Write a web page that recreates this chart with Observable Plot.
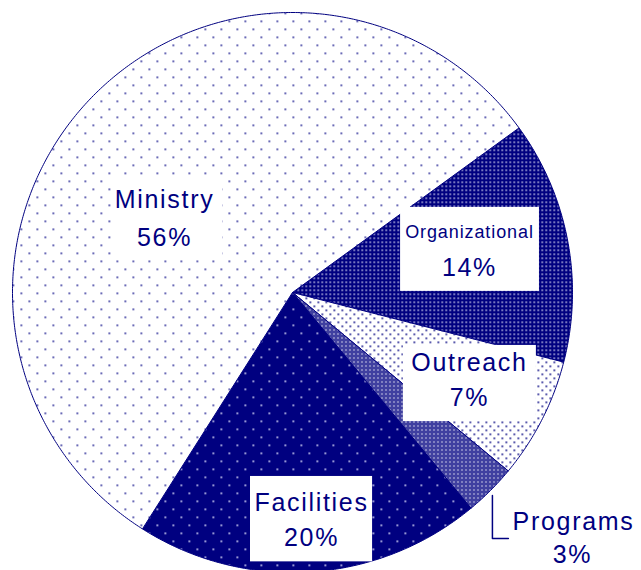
<!DOCTYPE html>
<html>
<head>
<meta charset="utf-8">
<script src="https://cdn.jsdelivr.net/npm/d3@7"></script>
<script src="https://cdn.jsdelivr.net/npm/@observablehq/plot@0.6"></script>
<style>
  html, body { margin: 0; padding: 0; background: #fff; }
  #chart svg { display: block; }
  #chart svg text { letter-spacing: 1.7px; }
</style>
</head>
<body>
<div id="chart"></div>
<script>
// ---- data ----
const categories = ["Organizational", "Outreach", "Programs", "Facilities", "Ministry"];
const values = [14, 7, 3, 20, 56];
const pctLabels = ["14%", "7%", "3%", "20%", "56%"];

// ---- layout (in units of the pie radius, centre = 0,0) ----
const startDeg = 54;
const textX = [0.632, 0.632, 0.786, 0.068, -0.457];
const textY1 = [0.214, -0.25, -0.821, -0.75, 0.329];
const textY2 = [0.089, -0.375, -0.939, -0.875, 0.196];
const pctX = [0.632, 0.632, 1.0, 0.068, -0.457];
const boxX1 = [0.386, 0.396, null, -0.15, -0.643];
const boxX2 = [0.882, 0.871, null, 0.286, -0.25];
const boxY1 = [0.004, -0.461, null, -0.962, 0.114];
const boxY2 = [0.304, -0.189, null, -0.657, 0.414];
const leader = [{x: 0.714, y: -0.725}, {x: 0.714, y: -0.879}, {x: 0.771, y: -0.879}];

const navy = "#000080";
const patterns = ["pOrg", "pOut", "pProg", "pFac", "pMin"];

const arcs = d3.pie().sort(null)
  .startAngle(startDeg * Math.PI / 180)
  .endAngle(startDeg * Math.PI / 180 + 2 * Math.PI)(values);

function slicePoly(a) {
  const pts = [{x: 0, y: 0}];
  const n = Math.max(2, Math.ceil((a.endAngle - a.startAngle) / (Math.PI / 360)));
  for (let k = 0; k <= n; k++) {
    const t = a.startAngle + (a.endAngle - a.startAngle) * k / n;
    pts.push({x: Math.sin(t), y: Math.cos(t)});
  }
  pts.push({x: 0, y: 0});
  return pts;
}

const labels = categories.map((c, i) => ({
  name: c, pct: pctLabels[i], x: textX[i], y1: textY1[i], y2: textY2[i], px: pctX[i],
  bx1: boxX1[i], bx2: boxX2[i], by1: boxY1[i], by2: boxY2[i]
}));
const boxed = labels.filter(d => d.bx1 != null);
const centred = labels.filter(d => d.name !== "Programs");
const prog = labels.filter(d => d.name === "Programs");

const font = "Liberation Sans, Arial, sans-serif";

const chart = Plot.plot({
  width: 641,
  height: 570,
  marginLeft: 12, marginTop: 12, marginRight: 0, marginBottom: 0,
  x: {domain: [-1, 349 / 280], axis: null},
  y: {domain: [-278 / 280, 1], axis: null},
  style: {background: "white", overflow: "visible"},
  marks: [
    ...arcs.map((a, i) => Plot.line(slicePoly(a), {
      x: "x", y: "y", fill: `url(#${patterns[i]})`, stroke: navy, strokeWidth: 1, curve: "linear"
    })),
    Plot.rect(boxed, {x1: "bx1", x2: "bx2", y1: "by1", y2: "by2", fill: "white"}),
    Plot.text(centred.filter(d => d.name !== "Organizational"), {x: "x", y: "y1", text: "name", fill: navy, fontSize: 25, fontFamily: font}),
    Plot.text(centred.filter(d => d.name === "Organizational"), {x: "x", y: "y1", text: "name", fill: navy, fontSize: 18, fontFamily: font}),
    Plot.text(centred, {x: "px", y: "y2", text: "pct", fill: navy, fontSize: 25, fontFamily: font}),
    Plot.text(prog, {x: "x", y: "y1", text: "name", fill: navy, fontSize: 25, fontFamily: font, textAnchor: "start"}),
    Plot.text(prog, {x: "px", y: "y2", text: "pct", fill: navy, fontSize: 25, fontFamily: font}),
    Plot.line(leader, {x: "x", y: "y", stroke: navy, strokeWidth: 1.5})
  ]
});

// pattern definitions
const svg = d3.select(chart);
const defs = svg.insert("defs", ":first-child");
function pat(id, size, bg, fg, cells) {
  const p = defs.append("pattern").attr("id", id).attr("patternUnits", "userSpaceOnUse")
    .attr("width", size).attr("height", size);
  p.append("rect").attr("width", size).attr("height", size).attr("fill", bg);
  cells.forEach(([x, y, w, h]) => p.append("rect").attr("x", x).attr("y", y).attr("width", w).attr("height", h).attr("fill", fg));
}
pat("pMin", 16, "white", "#1a1a90", [[4, 4, 1.6, 1.6], [12, 12, 1.6, 1.6]]);
pat("pFac", 16, navy, "#e8e8ff", [[4, 4, 1.6, 1.6], [12, 12, 1.6, 1.6]]);
pat("pOrg", 4, navy, "#f0f0ff", [[1, 1, 1.4, 1.4]]);
pat("pOut", 8, "white", navy, [[1, 1, 1.6, 1.6], [5, 5, 1.6, 1.6]]);
pat("pProg", 4, navy, "white", [[1, 0, 1, 1], [0, 1, 1, 1], [2, 1, 1, 1], [1, 2, 1, 1], [3, 3, 1, 1]]);

svg.selectAll("text").filter(function () { return this.textContent === "Organizational"; })
  .style("letter-spacing", "0.9px");

document.getElementById("chart").appendChild(chart);
</script>
</body>
</html>
